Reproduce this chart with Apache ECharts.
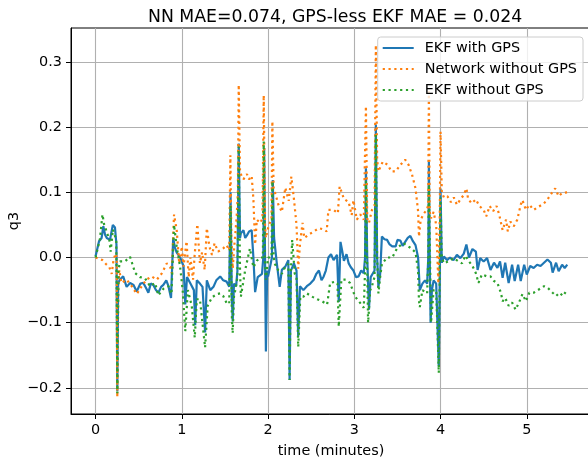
<!DOCTYPE html>
<html>
<head>
<meta charset="utf-8">
<script src="https://cdn.jsdelivr.net/npm/echarts@6/dist/echarts.min.js"></script>
<style>
  html, body { margin: 0; padding: 0; background: #fff; }
  #chart { width: 588px; height: 463px; }
</style>
</head>
<body>
<div id="chart"></div>
<script>
// time in minutes, q3 values
var ekfGpsT = [0, 0.04, 0.07, 0.09, 0.11, 0.13, 0.167, 0.2, 0.225, 0.242, 0.252, 0.262, 0.28, 0.32, 0.36, 0.40, 0.44, 0.477, 0.52, 0.554, 0.59, 0.612, 0.64, 0.67, 0.70, 0.728, 0.76, 0.786, 0.82, 0.845, 0.875, 0.90, 0.92, 0.94, 0.98, 1.02, 1.04, 1.06, 1.10, 1.14, 1.155, 1.174, 1.21, 1.24, 1.27, 1.29, 1.33, 1.367, 1.40, 1.445, 1.48, 1.52, 1.55, 1.565, 1.58, 1.59, 1.605, 1.63, 1.645, 1.66, 1.675, 1.685, 1.715, 1.735, 1.755, 1.78, 1.81, 1.83, 1.85, 1.88, 1.93, 1.945, 1.955, 1.965, 1.975, 1.99, 2.0, 2.03, 2.045, 2.055, 2.07, 2.08, 2.10, 2.135, 2.16, 2.2, 2.235, 2.25, 2.265, 2.3, 2.33, 2.35, 2.37, 2.41, 2.45, 2.49, 2.53, 2.56, 2.59, 2.62, 2.645, 2.67, 2.70, 2.73, 2.76, 2.80, 2.82, 2.84, 2.86, 2.88, 2.91, 2.935, 2.96, 2.99, 3.02, 3.05, 3.08, 3.11, 3.125, 3.135, 3.15, 3.17, 3.19, 3.205, 3.235, 3.25, 3.265, 3.28, 3.30, 3.32, 3.35, 3.38, 3.41, 3.44, 3.48, 3.50, 3.535, 3.56, 3.59, 3.62, 3.65, 3.68, 3.71, 3.74, 3.76, 3.79, 3.82, 3.845, 3.858, 3.865, 3.875, 3.885, 3.9, 3.92, 3.95, 3.98, 3.99, 4.0, 4.015, 4.04, 4.075, 4.11, 4.15, 4.19, 4.23, 4.27, 4.30, 4.33, 4.37, 4.41, 4.43, 4.46, 4.50, 4.54, 4.58, 4.62, 4.66, 4.69, 4.72, 4.75, 4.79, 4.83, 4.86, 4.90, 4.93, 4.97, 5.0, 5.04, 5.08, 5.12, 5.16, 5.2, 5.24, 5.28, 5.30, 5.34, 5.37, 5.41, 5.44, 5.47];
var ekfGpsV = [0.002, 0.025, 0.03, 0.048, 0.035, 0.03, 0.027, 0.05, 0.046, 0.02, -0.205, -0.04, -0.034, -0.029, -0.045, -0.039, -0.042, -0.052, -0.04, -0.039, -0.048, -0.054, -0.04, -0.042, -0.05, -0.054, -0.045, -0.042, -0.035, -0.044, -0.062, 0.03, 0.015, 0.008, 0.0, -0.013, -0.072, -0.03, -0.04, -0.05, -0.104, -0.035, -0.04, -0.045, -0.115, -0.035, -0.05, -0.045, -0.035, -0.029, -0.035, -0.037, -0.045, 0.1, -0.06, -0.098, -0.04, -0.044, -0.02, 0.175, 0.03, 0.037, 0.042, 0.03, 0.034, 0.04, 0.042, 0.0, -0.053, -0.03, -0.025, 0.0, 0.168, 0.0, -0.144, -0.02, -0.029, -0.01, 0.0, 0.119, 0.03, 0.018, -0.007, -0.045, -0.019, -0.014, -0.004, -0.188, -0.02, -0.009, -0.02, -0.121, -0.044, -0.05, -0.044, -0.04, -0.034, -0.025, -0.02, -0.035, -0.029, -0.02, 0.0, 0.005, -0.004, 0.004, -0.068, 0.024, 0.01, -0.005, 0.005, -0.009, -0.015, -0.02, -0.03, -0.029, -0.02, -0.024, 0.0, 0.137, 0.0, -0.08, -0.03, -0.029, -0.02, 0.204, 0.0, -0.045, -0.025, 0.032, 0.028, 0.027, 0.02, 0.017, 0.017, 0.027, 0.026, 0.018, 0.024, 0.03, 0.033, 0.025, 0.019, 0.0, -0.05, -0.04, -0.035, -0.04, 0.0, 0.147, 0.0, -0.1, -0.05, -0.035, -0.04, -0.167, -0.05, 0.106, -0.008, 0.0015, -0.004, 0.0, -0.004, 0.004, -0.001, 0.006, 0.02, 0.0, 0.013, 0.009, -0.019, -0.001, -0.006, -0.001, -0.019, -0.008, -0.016, -0.006, -0.031, -0.008, -0.039, -0.011, -0.036, -0.011, -0.036, -0.011, -0.026, -0.013, -0.016, -0.011, -0.013, -0.008, -0.003, -0.008, -0.023, -0.008, -0.021, -0.011, -0.016, -0.011];

var netT = [0, 0.04, 0.08, 0.12, 0.16, 0.187, 0.21, 0.235, 0.245, 0.252, 0.262, 0.275, 0.3, 0.36, 0.42, 0.477, 0.535, 0.59, 0.65, 0.71, 0.77, 0.825, 0.865, 0.884, 0.91, 0.94, 0.97, 1.0, 1.02, 1.055, 1.08, 1.1, 1.13, 1.15, 1.18, 1.21, 1.235, 1.265, 1.29, 1.32, 1.35, 1.38, 1.42, 1.48, 1.52, 1.55, 1.563, 1.575, 1.59, 1.61, 1.635, 1.65, 1.66, 1.675, 1.685, 1.715, 1.755, 1.78, 1.81, 1.83, 1.85, 1.87, 1.91, 1.935, 1.95, 1.965, 1.975, 2.0, 2.04, 2.05, 2.065, 2.08, 2.12, 2.16, 2.2, 2.24, 2.27, 2.30, 2.33, 2.35, 2.37, 2.40, 2.42, 2.47, 2.53, 2.59, 2.645, 2.68, 2.70, 2.76, 2.81, 2.83, 2.88, 2.935, 2.97, 2.99, 3.03, 3.07, 3.11, 3.135, 3.15, 3.17, 3.205, 3.235, 3.25, 3.265, 3.28, 3.33, 3.39, 3.43, 3.48, 3.535, 3.59, 3.63, 3.67, 3.71, 3.74, 3.75, 3.77, 3.81, 3.84, 3.857, 3.865, 3.875, 3.89, 3.92, 3.95, 3.975, 3.99, 4.0, 4.015, 4.04, 4.08, 4.12, 4.155, 4.19, 4.23, 4.27, 4.30, 4.32, 4.36, 4.41, 4.45, 4.50, 4.53, 4.57, 4.61, 4.65, 4.68, 4.72, 4.76, 4.78, 4.81, 4.85, 4.89, 4.93, 4.95, 4.99, 5.03, 5.08, 5.14, 5.2, 5.25, 5.29, 5.33, 5.37, 5.41, 5.47];
var netV = [0.0, -0.002, -0.004, -0.01, -0.015, -0.025, -0.002, 0.006, 0.0, -0.214, -0.05, -0.019, -0.039, -0.034, -0.044, -0.056, -0.044, -0.034, -0.029, -0.034, -0.024, -0.009, -0.014, -0.024, 0.066, 0.043, -0.009, 0.017, -0.014, 0.025, -0.03, 0.0, -0.034, 0.006, 0.051, -0.009, 0.008, -0.019, 0.045, 0.017, 0.004, 0.022, 0.009, 0.014, 0.019, 0.011, 0.157, 0.03, -0.017, 0.02, 0.06, 0.1, 0.265, 0.13, 0.13, 0.12, 0.128, 0.12, 0.125, 0.09, 0.02, 0.058, 0.053, 0.06, 0.249, 0.05, 0.03, 0.045, 0.06, 0.209, 0.107, 0.107, 0.081, 0.07, 0.107, 0.087, 0.124, 0.09, 0.05, -0.017, 0.02, 0.053, 0.03, 0.035, 0.04, 0.045, 0.043, 0.04, 0.073, 0.073, 0.068, 0.109, 0.09, 0.085, 0.065, 0.088, 0.058, 0.066, 0.058, 0.232, 0.06, 0.053, 0.073, 0.08, 0.326, 0.15, 0.132, 0.147, 0.142, 0.132, 0.132, 0.142, 0.15, 0.142, 0.127, 0.106, 0.071, 0.032, 0.058, 0.068, 0.073, 0.08, 0.255, 0.07, 0.06, 0.07, 0.05, -0.04, 0.05, 0.193, 0.1, 0.092, 0.094, 0.085, 0.092, 0.081, 0.089, 0.096, 0.106, 0.09, 0.083, 0.089, 0.079, 0.073, 0.063, 0.079, 0.071, 0.079, 0.066, 0.042, 0.058, 0.04, 0.055, 0.048, 0.058, 0.081, 0.088, 0.073, 0.081, 0.073, 0.078, 0.083, 0.091, 0.099, 0.106, 0.094, 0.099, 0.1];

var ekfNoGpsT = [0, 0.05, 0.08, 0.1, 0.12, 0.16, 0.175, 0.2, 0.24, 0.252, 0.265, 0.283, 0.34, 0.40, 0.46, 0.515, 0.574, 0.632, 0.69, 0.728, 0.786, 0.845, 0.88, 0.91, 0.94, 0.98, 1.01, 1.04, 1.07, 1.115, 1.15, 1.174, 1.21, 1.27, 1.30, 1.35, 1.41, 1.445, 1.48, 1.52, 1.55, 1.565, 1.58, 1.59, 1.605, 1.62, 1.645, 1.66, 1.675, 1.685, 1.735, 1.79, 1.83, 1.87, 1.91, 1.94, 1.95, 1.962, 1.975, 2.0, 2.04, 2.05, 2.065, 2.08, 2.12, 2.16, 2.2, 2.235, 2.25, 2.265, 2.28, 2.31, 2.33, 2.35, 2.374, 2.41, 2.45, 2.51, 2.57, 2.625, 2.685, 2.72, 2.78, 2.805, 2.82, 2.85, 2.90, 2.95, 3.01, 3.07, 3.11, 3.125, 3.135, 3.148, 3.16, 3.185, 3.205, 3.235, 3.25, 3.265, 3.28, 3.30, 3.32, 3.38, 3.44, 3.50, 3.57, 3.65, 3.71, 3.74, 3.75, 3.76, 3.79, 3.845, 3.858, 3.865, 3.878, 3.89, 3.92, 3.95, 3.98, 3.99, 4.0, 4.015, 4.04, 4.09, 4.15, 4.21, 4.25, 4.29, 4.33, 4.37, 4.41, 4.44, 4.48, 4.54, 4.58, 4.62, 4.66, 4.70, 4.72, 4.75, 4.79, 4.83, 4.87, 4.91, 4.95, 4.99, 5.03, 5.08, 5.14, 5.2, 5.24, 5.30, 5.34, 5.38, 5.42, 5.47];
var ekfNoGpsV = [0.0, 0.028, 0.066, 0.05, 0.043, 0.027, 0.009, 0.043, 0.027, -0.208, -0.02, -0.006, -0.006, 0.001, -0.024, -0.03, -0.032, -0.044, -0.039, -0.058, -0.048, -0.044, -0.056, 0.05, 0.017, -0.014, -0.05, -0.113, -0.05, -0.074, -0.123, -0.064, -0.064, -0.138, -0.074, -0.061, -0.056, -0.055, -0.059, -0.07, -0.071, 0.08, -0.09, -0.116, -0.06, -0.05, -0.03, 0.17, -0.02, -0.06, -0.019, 0.014, -0.015, -0.005, 0.0, 0.0, 0.178, 0.0, -0.034, 0.0, 0.0, 0.117, 0.0, -0.01, -0.02, -0.025, -0.014, -0.01, -0.188, -0.02, 0.027, -0.025, -0.03, -0.137, -0.06, -0.06, -0.055, -0.06, -0.064, -0.067, -0.072, -0.039, -0.037, -0.04, -0.106, -0.034, -0.034, -0.039, -0.06, -0.07, -0.077, -0.02, 0.117, 0.0, -0.1, -0.05, -0.044, -0.03, 0.188, 0.0, -0.055, -0.03, -0.01, 0.0, 0.0, 0.015, 0.022, 0.015, 0.008, -0.02, -0.066, -0.076, -0.05, -0.055, 0.0, 0.112, 0.0, -0.1, -0.05, -0.05, -0.177, -0.04, 0.092, 0.0, -0.009, -0.006, -0.001, -0.006, -0.009, 0.003, -0.006, -0.013, -0.024, -0.039, -0.026, -0.029, -0.029, -0.036, -0.039, -0.054, -0.067, -0.062, -0.074, -0.069, -0.08, -0.069, -0.056, -0.067, -0.054, -0.054, -0.049, -0.044, -0.046, -0.054, -0.059, -0.054, -0.059, -0.049];

var xTicks = [0, 1, 2, 3, 4, 5];
var yTicks = [-0.2, -0.1, 0.0, 0.1, 0.2, 0.3];

function pairs(t, v) {
  return t.map(function (x, i) { return [x, v[i]]; });
}

var font = 'DejaVu Sans';
var chart = echarts.init(document.getElementById('chart'));

var option = {
  animation: false,
  title: {
    text: 'NN MAE=0.074, GPS-less EKF MAE = 0.024',
    left: 143,
    top: 4,
    textStyle: { fontFamily: font, fontSize: 17.3, fontWeight: 'normal', color: '#000' }
  },
  grid: {
    left: 71, right: -3, top: 28, bottom: 49,
    outerBoundsMode: 'none',
    show: true, borderColor: '#000', borderWidth: 1, backgroundColor: 'transparent'
  },
  legend: {
    orient: 'vertical',
    right: 5,
    top: 37,
    itemWidth: 31,
    itemHeight: 14,
    itemGap: 7,
    padding: [4, 6, 4, 4],
    backgroundColor: 'rgba(255,255,255,0.8)',
    borderColor: '#cccccc',
    borderWidth: 1,
    borderRadius: 3,
    itemStyle: { opacity: 0 },
    textStyle: { fontFamily: font, fontSize: 14.4, color: '#000', padding: [0, 0, 0, 6] },
    data: ['EKF with GPS', 'Network without GPS', 'EKF without GPS']
  },
  xAxis: {
    type: 'value',
    min: -0.285,
    max: 5.745,
    name: 'time (minutes)',
    nameLocation: 'middle',
    nameGap: 30,
    nameMoveOverlap: false,
    nameTextStyle: { fontFamily: font, fontSize: 14.4, color: '#000' },
    axisLine: { onZero: false, lineStyle: { color: '#000', width: 1 } },
    axisTick: { show: true, length: 5, customValues: xTicks, lineStyle: { color: '#000' } },
    axisLabel: {
      customValues: xTicks, margin: 9,
      fontFamily: font, fontSize: 14.4, color: '#000',
      formatter: function (v) { return String(Math.round(v)); }
    },
    splitLine: { show: true, lineStyle: { color: '#b0b0b0', width: 1.1 } }
  },
  yAxis: {
    type: 'value',
    min: -0.24,
    max: 0.352,
    name: 'q3',
    nameLocation: 'middle',
    nameRotate: 90,
    nameGap: 50,
    nameMoveOverlap: false,
    nameTextStyle: { fontFamily: font, fontSize: 14.4, color: '#000' },
    axisLine: { show: true, onZero: false, lineStyle: { color: '#000', width: 1 } },
    axisTick: { show: true, length: 5, customValues: yTicks, lineStyle: { color: '#000' } },
    axisLabel: {
      customValues: yTicks, margin: 9,
      fontFamily: font, fontSize: 14.4, color: '#000',
      formatter: function (v) {
        var s = Math.abs(v).toFixed(1);
        return (v < -1e-9 ? '\u2212' : '') + s;
      }
    },
    splitLine: { show: true, lineStyle: { color: '#b0b0b0', width: 1.1 } }
  },
  series: [
    {
      name: 'EKF with GPS', type: 'line', showSymbol: false, symbol: 'none',
      color: '#1f77b4',
      lineStyle: { color: '#1f77b4', width: 2.2 },
      data: pairs(ekfGpsT, ekfGpsV)
    },
    {
      name: 'Network without GPS', type: 'line', showSymbol: false, symbol: 'none',
      color: '#ff7f0e',
      lineStyle: { color: '#ff7f0e', width: 2.2, type: [2.2, 3.6] },
      data: pairs(netT, netV)
    },
    {
      name: 'EKF without GPS', type: 'line', showSymbol: false, symbol: 'none',
      color: '#2ca02c',
      lineStyle: { color: '#2ca02c', width: 2.2, type: [2.2, 3.6] },
      data: pairs(ekfNoGpsT, ekfNoGpsV)
    }
  ]
};

chart.setOption(option);
</script>
</body>
</html>
